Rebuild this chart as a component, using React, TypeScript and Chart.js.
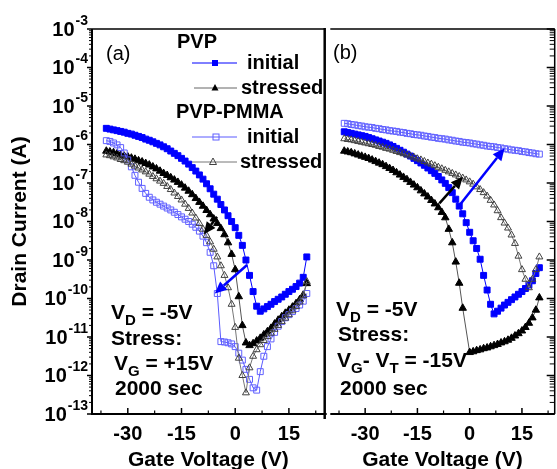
import React, { useEffect, useRef } from 'react';
import { Chart, registerables } from 'chart.js';

Chart.register(...registerables);

const FONT = '"Liberation Sans", Arial, Helvetica, sans-serif';

// Gate voltage (V) at which every curve is sampled
const gateVoltage = [
  -36, -35, -34, -33, -32, -31, -30, -29, -28, -27,
  -26, -25, -24, -23, -22, -21, -20, -19, -18, -17,
  -16, -15, -14, -13, -12, -11, -10, -9, -8, -7,
  -6, -5, -4, -3, -2, -1, 0, 1, 2, 3,
  4, 5, 6, 7, 8, 9, 10, 11, 12, 13,
  14, 15, 16, 17, 18, 19, 20,
];

// Drain current, given as log10(I / A)
// Panel (a): stress VG = +15 V
const aPvpInitial = [
  -5.58, -5.60, -5.62, -5.64, -5.66, -5.68, -5.71, -5.73, -5.76, -5.79,
  -5.82, -5.86, -5.89, -5.93, -5.97, -6.01, -6.06, -6.11, -6.17, -6.23,
  -6.29, -6.36, -6.43, -6.51, -6.60, -6.69, -6.79, -6.90, -7.02, -7.15,
  -7.29, -7.42, -7.56, -7.70, -7.85, -8.00, -8.16, -8.36, -8.62, -9.00,
  -9.40, -9.82, -10.20, -10.33, -10.27, -10.21, -10.15, -10.08, -10.02, -9.96,
  -9.89, -9.82, -9.76, -9.69, -9.60, -9.45, -8.92,
];
const aPvpStressed = [
  -6.17, -6.19, -6.21, -6.24, -6.27, -6.30, -6.32, -6.35, -6.38, -6.42,
  -6.45, -6.49, -6.53, -6.58, -6.63, -6.69, -6.75, -6.80, -6.86, -6.92,
  -6.98, -7.05, -7.13, -7.21, -7.30, -7.40, -7.50, -7.60, -7.71, -7.82,
  -7.93, -8.05, -8.18, -8.34, -8.55, -8.85, -9.25, -9.95, -10.70, -11.15,
  -11.22, -11.17, -11.10, -11.03, -10.94, -10.86, -10.77, -10.66, -10.56, -10.47,
  -10.38, -10.30, -10.22, -10.13, -10.03, -9.91, -9.61,
];
const aPmmaInitial = [
  -5.90, -5.92, -5.96, -6.01, -6.08, -6.22, -6.40, -6.58, -6.80, -6.98,
  -7.14, -7.27, -7.37, -7.44, -7.50, -7.55, -7.60, -7.65, -7.70, -7.76,
  -7.82, -7.88, -7.94, -8.00, -8.07, -8.15, -8.25, -8.38, -8.55, -8.80,
  -9.15, -9.87, -11.12, -11.13, -11.15, -11.18, -11.25, -11.42, -11.60, -11.84,
  -12.10, -12.32, -12.38, -11.90, -11.50, -11.25, -11.05, -10.88, -10.72, -10.60,
  -10.50, -10.42, -10.34, -10.26, -10.17, -10.07, -9.87,
];
const aPmmaStressed = [
  -6.27, -6.29, -6.32, -6.35, -6.39, -6.42, -6.46, -6.51, -6.56, -6.61,
  -6.66, -6.71, -6.77, -6.83, -6.89, -6.95, -7.01, -7.09, -7.17, -7.26,
  -7.35, -7.44, -7.55, -7.66, -7.78, -7.91, -8.05, -8.20, -8.36, -8.53,
  -8.72, -8.92, -9.15, -9.40, -9.72, -10.15, -10.75, -11.55, -12.00, -12.45,
  -11.80, -11.50, -11.33, -11.20, -11.09, -10.99, -10.90, -10.80, -10.70, -10.60,
  -10.51, -10.42, -10.32, -10.21, -10.09, -9.93, -9.56,
];

// Panel (b): stress VG - VT = -15 V
const bPvpInitial = [
  -5.67, -5.69, -5.71, -5.73, -5.75, -5.77, -5.79, -5.82, -5.85, -5.88,
  -5.91, -5.94, -5.97, -6.01, -6.05, -6.10, -6.15, -6.20, -6.25, -6.30,
  -6.36, -6.42, -6.48, -6.54, -6.61, -6.68, -6.75, -6.83, -6.92, -7.01,
  -7.12, -7.25, -7.42, -7.60, -7.80, -8.03, -8.28, -8.50, -8.70, -8.98,
  -9.40, -9.78, -10.15, -10.40, -10.33, -10.25, -10.17, -10.10, -10.03, -9.96,
  -9.89, -9.82, -9.74, -9.65, -9.54, -9.35, -9.20,
];
const bPvpStressed = [
  -6.17, -6.19, -6.21, -6.24, -6.27, -6.30, -6.33, -6.36, -6.40, -6.44,
  -6.48, -6.52, -6.57, -6.62, -6.67, -6.73, -6.79, -6.85, -6.91, -6.98,
  -7.05, -7.12, -7.20, -7.28, -7.36, -7.45, -7.54, -7.64, -7.76, -7.90,
  -8.20, -8.55, -9.05, -9.60, -10.25, null, -11.40, -11.38, -11.35, -11.33,
  -11.30, -11.28, -11.25, -11.22, -11.19, -11.15, -11.12, -11.08, -11.03, -10.97,
  -10.91, -10.84, -10.75, -10.64, -10.50, -10.30, -9.98,
];
const bPmmaInitial = [
  -5.45, -5.46, -5.48, -5.49, -5.51, -5.52, -5.54, -5.55, -5.56, -5.58,
  -5.59, -5.61, -5.62, -5.64, -5.65, -5.66, -5.68, -5.69, -5.71, -5.72,
  -5.74, -5.75, -5.76, -5.78, -5.79, -5.81, -5.82, -5.84, -5.85, -5.86,
  -5.88, -5.89, -5.91, -5.92, -5.94, -5.95, -5.96, -5.98, -5.99, -6.01,
  -6.02, -6.04, -6.05, -6.06, -6.08, -6.09, -6.11, -6.12, -6.14, -6.15,
  -6.16, -6.18, -6.19, -6.21, -6.22, -6.24, -6.25,
];
const bPmmaStressed = [
  -5.85, -5.87, -5.88, -5.90, -5.92, -5.94, -5.96, -5.98, -6.00, -6.02,
  -6.05, -6.07, -6.10, -6.12, -6.15, -6.18, -6.21, -6.24, -6.27, -6.30,
  -6.33, -6.37, -6.40, -6.44, -6.48, -6.51, -6.55, -6.59, -6.63, -6.67,
  -6.71, -6.75, -6.79, -6.83, -6.87, -6.92, -6.97, -7.03, -7.10, -7.17,
  -7.25, -7.34, -7.45, -7.57, -7.72, -7.90, -8.04, -8.17, -8.35, -8.57,
  -8.90, -9.25, -9.50, -9.72, -9.50, -9.25, -8.92,
];

// Axis ticks
const xMajorTicks = [-30, -15, 0, 15];
const xMinorTicks = [-37.5, -22.5, -7.5, 7.5, 22.5];
const yDecades = [-13, -12, -11, -10, -9, -8, -7, -6, -5, -4, -3];

// Arrows: [gate voltage, log10 current] start -> end
const arrowsA = [
  { from: [-5.06, -7.88], to: [-8.78, -8.33], color: '#000000' },
  { from: [3.3, -9.13], to: [-5.7, -9.87], color: '#0000ff' },
];
const arrowsB = [
  { from: [-8.7, -7.53], to: [-1.94, -6.84], color: '#000000' },
  { from: [-2.86, -7.57], to: [10.0, -6.1], color: '#0000ff' },
];

const toPoints = (ys: (number | null)[]) =>
  gateVoltage.map((x, i) => ({ x, y: ys[i] === null ? null : Math.pow(10, ys[i] as number) }));

const BLUE = '#0000ff';

function makeDatasets(pi: (number | null)[], ps: (number | null)[], mi: (number | null)[], ms: (number | null)[]) {
  return [
    {
      label: 'PVP-PMMA stressed',
      data: toPoints(ms),
      showLine: true,
      borderColor: '#777777',
      borderWidth: 1,
      pointStyle: 'triangle',
      pointRadius: 4,
      pointBorderWidth: 1,
      pointBorderColor: '#404040',
      pointBackgroundColor: 'rgba(255,255,255,0)',
      spanGaps: true,
    },
    {
      label: 'PVP-PMMA initial',
      data: toPoints(mi),
      showLine: true,
      borderColor: '#5a5aff',
      borderWidth: 1,
      pointStyle: 'rect',
      pointRadius: 4.2,
      pointBorderWidth: 1,
      pointBorderColor: '#6060ff',
      pointBackgroundColor: 'rgba(255,255,255,0)',
      spanGaps: true,
    },
    {
      label: 'PVP stressed',
      data: toPoints(ps),
      showLine: true,
      borderColor: '#555555',
      borderWidth: 1,
      pointStyle: 'triangle',
      pointRadius: 4.3,
      pointBorderWidth: 1,
      pointBorderColor: '#000000',
      pointBackgroundColor: '#000000',
      spanGaps: true,
    },
    {
      label: 'PVP initial',
      data: toPoints(pi),
      showLine: true,
      borderColor: BLUE,
      borderWidth: 1,
      pointStyle: 'rect',
      pointRadius: 4.2,
      pointBorderWidth: 1,
      pointBorderColor: BLUE,
      pointBackgroundColor: BLUE,
      spanGaps: true,
    },
  ];
}

function seg(ctx: CanvasRenderingContext2D, x0: number, y0: number, x1: number, y1: number, w: number, color: string) {
  ctx.strokeStyle = color;
  ctx.lineWidth = w;
  ctx.setLineDash([]);
  ctx.beginPath();
  ctx.moveTo(x0, y0);
  ctx.lineTo(x1, y1);
  ctx.stroke();
}

function drawArrow(ctx: CanvasRenderingContext2D, x0: number, y0: number, x1: number, y1: number, color: string) {
  const ang = Math.atan2(y1 - y0, x1 - x0);
  const L = 12;
  const W = 5.5;
  const bx = x1 - L * Math.cos(ang);
  const by = y1 - L * Math.sin(ang);
  seg(ctx, x0, y0, bx, by, 2.5, color);
  ctx.fillStyle = color;
  ctx.beginPath();
  ctx.moveTo(x1, y1);
  ctx.lineTo(bx + W * Math.sin(ang), by - W * Math.cos(ang));
  ctx.lineTo(bx - W * Math.sin(ang), by + W * Math.cos(ang));
  ctx.closePath();
  ctx.fill();
}

// text with optional subscripts; parts: [text, isSubscript]
function drawRich(ctx: CanvasRenderingContext2D, x: number, yMid: number, parts: [string, boolean][], size: number, subSize: number) {
  ctx.fillStyle = '#000';
  ctx.textAlign = 'left';
  ctx.textBaseline = 'alphabetic';
  const base = yMid + size * 0.36;
  let cx = x;
  for (const [t, sub] of parts) {
    ctx.font = `bold ${sub ? subSize : size}px ${FONT}`;
    ctx.fillText(t, cx, sub ? base + size * 0.3 : base);
    cx += ctx.measureText(t).width;
  }
}

function marker(ctx: CanvasRenderingContext2D, kind: string, x: number, y: number) {
  ctx.lineWidth = 1;
  if (kind === 'sqFilled') {
    ctx.fillStyle = BLUE;
    ctx.fillRect(x - 3, y - 3, 6, 6);
  } else if (kind === 'sqOpen') {
    ctx.strokeStyle = '#6060ff';
    ctx.strokeRect(x - 3, y - 3, 6, 6);
  } else {
    ctx.beginPath();
    ctx.moveTo(x, y - 4);
    ctx.lineTo(x + 3.5, y + 2.5);
    ctx.lineTo(x - 3.5, y + 2.5);
    ctx.closePath();
    if (kind === 'triFilled') {
      ctx.fillStyle = '#000';
      ctx.fill();
    } else {
      ctx.strokeStyle = '#404040';
      ctx.stroke();
    }
  }
}

function frameBox(chart: any) {
  const xs = chart.scales.x;
  const ys = chart.scales.y;
  return {
    L: xs.getPixelForValue(xs.min),
    R: xs.getPixelForValue(xs.max),
    T: ys.getPixelForValue(1e-3),
    B: ys.getPixelForValue(1e-13),
  };
}

function bottomTicks(ctx: CanvasRenderingContext2D, chart: any) {
  const f = frameBox(chart);
  const xs = chart.scales.x;
  for (const v of xMajorTicks) {
    const px = xs.getPixelForValue(v);
    seg(ctx, px, f.B, px, f.B - 6, 1.5, '#000');
  }
  for (const v of xMinorTicks) {
    const px = xs.getPixelForValue(v);
    if (px > f.L + 1 && px < f.R - 1) seg(ctx, px, f.B, px, f.B - 3.5, 1.2, '#000');
  }
}

function drawArrows(ctx: CanvasRenderingContext2D, chart: any, arrows: typeof arrowsA) {
  const xs = chart.scales.x;
  const ys = chart.scales.y;
  for (const a of arrows) {
    drawArrow(
      ctx,
      xs.getPixelForValue(a.from[0]),
      ys.getPixelForValue(Math.pow(10, a.from[1])),
      xs.getPixelForValue(a.to[0]),
      ys.getPixelForValue(Math.pow(10, a.to[1])),
      a.color,
    );
  }
}

const decorA = {
  id: 'decorA',
  afterDraw(chart: any) {
    const ctx: CanvasRenderingContext2D = chart.ctx;
    const ys = chart.scales.y;
    const f = frameBox(chart);
    ctx.save();
    // frame
    seg(ctx, f.L, f.T, f.L, f.B, 2, '#000');
    seg(ctx, f.L, f.T, f.R, f.T, 1.5, '#000');
    seg(ctx, f.L - 1, f.B, f.R + 2, f.B, 2, '#000');
    seg(ctx, f.R, f.T - 1, f.R, f.B + 5, 2.5, '#000');
    // left y ticks (outward) and labels
    for (const k of yDecades) {
      const py = ys.getPixelForValue(Math.pow(10, k));
      seg(ctx, f.L - 5, py, f.L, py, 1.5, '#000');
      if (k < -3) {
        for (let m = 2; m <= 9; m++) {
          const pm = ys.getPixelForValue(m * Math.pow(10, k));
          seg(ctx, f.L - 3, pm, f.L, pm, 1, '#000');
        }
      }
      ctx.fillStyle = '#000';
      ctx.textAlign = 'right';
      ctx.textBaseline = 'middle';
      ctx.font = `bold 14px ${FONT}`;
      const sup = String(k);
      const sw = ctx.measureText(sup).width;
      ctx.fillText(sup, 88, py - 8);
      ctx.font = `bold 20px ${FONT}`;
      ctx.fillText('10', 88 - sw - 1, py + 1);
    }
    bottomTicks(ctx, chart);
    drawArrows(ctx, chart, arrowsA);

    // panel label
    ctx.fillStyle = '#000';
    ctx.textAlign = 'left';
    ctx.textBaseline = 'middle';
    ctx.font = `20px ${FONT}`;
    ctx.fillText('(a)', 106, 54);

    // legend
    ctx.font = `bold 20px ${FONT}`;
    ctx.fillText('PVP', 177, 42);
    seg(ctx, 192, 63, 237, 63, 1, BLUE);
    marker(ctx, 'sqFilled', 215, 63);
    ctx.fillStyle = '#000';
    ctx.fillText('initial', 247, 63);
    seg(ctx, 194, 88, 237, 88, 1, '#666');
    marker(ctx, 'triFilled', 215, 88);
    ctx.fillStyle = '#000';
    ctx.fillText('stressed', 241, 88);
    ctx.fillText('PVP-PMMA', 176, 112);
    seg(ctx, 192, 137, 237, 137, 1, '#5a5aff');
    marker(ctx, 'sqOpen', 216, 137);
    ctx.fillStyle = '#000';
    ctx.fillText('initial', 247, 137);
    seg(ctx, 192, 162, 237, 162, 1, '#777');
    marker(ctx, 'triOpen', 213, 162);
    ctx.fillStyle = '#000';
    ctx.fillText('stressed', 240, 162);

    // conditions
    drawRich(ctx, 111, 311, [['V', false], ['D', true], [' = -5V', false]], 21, 15);
    drawRich(ctx, 111, 337, [['Stress:', false]], 21, 15);
    drawRich(ctx, 114, 362, [['V', false], ['G', true], [' = +15V', false]], 21, 15);
    drawRich(ctx, 115, 387, [['2000 sec', false]], 21, 15);
    ctx.restore();
  },
};

const decorB = {
  id: 'decorB',
  afterDraw(chart: any) {
    const ctx: CanvasRenderingContext2D = chart.ctx;
    const ys = chart.scales.y;
    const f = frameBox(chart);
    ctx.save();
    seg(ctx, f.L, f.T, f.R, f.T, 1.5, '#000');
    seg(ctx, f.L, f.B, f.R, f.B, 2, '#000');
    seg(ctx, f.R, f.T, f.R, f.B, 1.5, '#000');
    // right y ticks (inward)
    for (const k of yDecades) {
      const py = ys.getPixelForValue(Math.pow(10, k));
      seg(ctx, f.R - 8, py, f.R, py, 1.5, '#000');
      if (k < -3) {
        for (let m = 2; m <= 9; m++) {
          const pm = ys.getPixelForValue(m * Math.pow(10, k));
          seg(ctx, f.R - 5, pm, f.R, pm, 1, '#000');
        }
      }
    }
    bottomTicks(ctx, chart);
    drawArrows(ctx, chart, arrowsB);

    const ox = -325;
    ctx.fillStyle = '#000';
    ctx.textAlign = 'left';
    ctx.textBaseline = 'middle';
    ctx.font = `20px ${FONT}`;
    ctx.fillText('(b)', 333 + ox, 53);

    drawRich(ctx, 336 + ox, 308, [['V', false], ['D', true], [' = -5V', false]], 21, 15);
    drawRich(ctx, 338 + ox, 333, [['Stress:', false]], 21, 15);
    drawRich(ctx, 337 + ox, 359, [['V', false], ['G', true], ['- V', false], ['T', true], [' = -15V', false]], 21, 15);
    drawRich(ctx, 340 + ox, 387, [['2000 sec', false]], 21, 15);
    ctx.restore();
  },
};

function xAxis(min: number, max: number) {
  return {
    type: 'linear',
    min,
    max,
    grid: { display: false, drawTicks: false },
    border: { display: false },
    afterBuildTicks: (s: any) => {
      s.ticks = xMajorTicks.map((v) => ({ value: v }));
    },
    ticks: {
      font: { family: FONT, size: 20, weight: 'bold' },
      color: '#000',
      padding: 8,
      maxRotation: 0,
      autoSkip: false,
      callback: (v: any) => String(v),
    },
    title: {
      display: true,
      text: 'Gate Voltage (V)',
      font: { family: FONT, size: 21, weight: 'bold' },
      color: '#000',
      padding: { top: 0, bottom: -4 },
    },
    afterFit: (s: any) => {
      s.height = 55;
    },
  };
}

function yAxis(display: boolean) {
  const axis: any = {
    type: 'logarithmic',
    display,
    min: 1e-13,
    max: 1e-3,
    grid: { display: false, drawTicks: false },
    border: { display: false },
    ticks: { display: false },
    title: {
      display,
      text: 'Drain Current (A)',
      font: { family: FONT, size: 21, weight: 'bold' },
      color: '#000',
      padding: { top: 8, bottom: 0 },
    },
  };
  if (display) {
    axis.afterFit = (s: any) => {
      s.width = 92;
    };
  }
  return axis;
}

function baseOptions(padding: any, x: any, y: any) {
  return {
    animation: false,
    responsive: false,
    maintainAspectRatio: false,
    devicePixelRatio: 1,
    layout: { padding },
    plugins: { legend: { display: false }, tooltip: { enabled: false } },
    scales: { x, y },
  };
}

export default function App() {
  const refA = useRef<HTMLCanvasElement>(null);
  const refB = useRef<HTMLCanvasElement>(null);

  useEffect(() => {
    const chartA = new Chart(refA.current as HTMLCanvasElement, {
      type: 'scatter',
      data: { datasets: makeDatasets(aPvpInitial, aPvpStressed, aPmmaInitial, aPmmaStressed) as any },
      options: baseOptions({ left: 0, right: 2, top: 29, bottom: 0 }, xAxis(-40, 25), yAxis(true)) as any,
      plugins: [decorA],
    });
    const chartB = new Chart(refB.current as HTMLCanvasElement, {
      type: 'scatter',
      data: { datasets: makeDatasets(bPvpInitial, bPvpStressed, bPmmaInitial, bPmmaStressed) as any },
      options: baseOptions({ left: 0, right: 1, top: 29, bottom: 0 }, xAxis(-40, 24.4), yAxis(false)) as any,
      plugins: [decorB],
    });
    return () => {
      chartA.destroy();
      chartB.destroy();
    };
  }, []);

  return (
    <div style={{ position: 'absolute', left: 0, top: 0, width: 557, height: 469, background: '#ffffff', overflow: 'hidden' }}>
      <canvas ref={refA} width={330} height={469} style={{ position: 'absolute', left: 0, top: 0, width: 330, height: 469 }} />
      <canvas ref={refB} width={235} height={469} style={{ position: 'absolute', left: 325, top: 0, width: 235, height: 469 }} />
    </div>
  );
}
